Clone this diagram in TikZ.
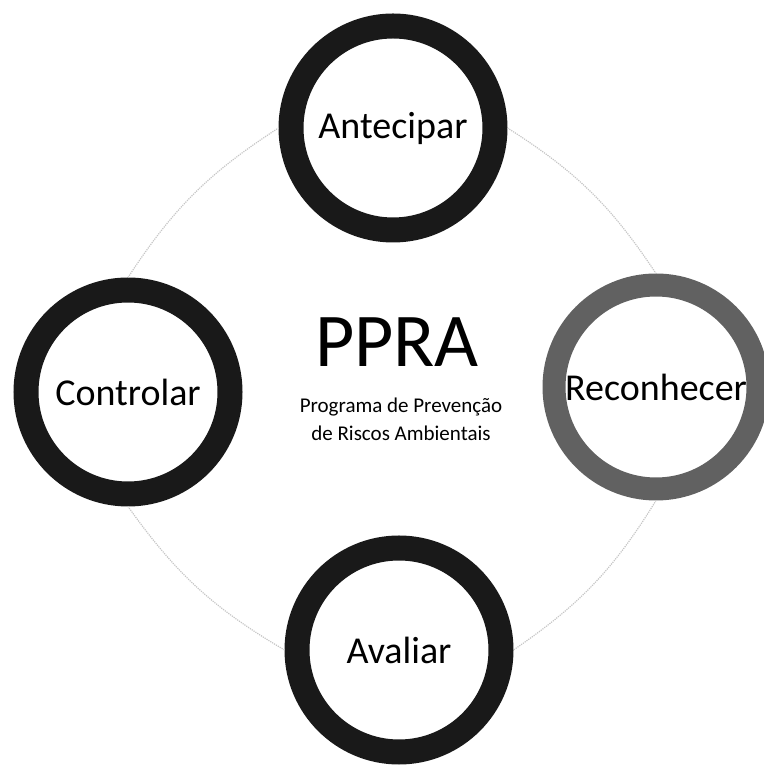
\documentclass[tikz,border=0pt]{standalone}
\usepackage{fontspec}
\setmainfont{Carlito}
\usepackage{tikz}

\tikzset{
  ring/.style={circle, draw=black!90, line width=25pt, minimum size=204pt,
               inner sep=0pt, font=\fontsize{38}{40}\selectfont},
  ringgray/.style={ring, draw=black!62, line width=23pt},
  ciclo/.style={draw=gray!45, densely dotted, line width=1.2pt}
}

\begin{document}
\begin{tikzpicture}[x=1pt,y=1pt]
\useasboundingbox (0,0) rectangle (763,765);
\node[ring] (antecipar) at (393,637) {Antecipar};
\node[ringgray] (reconhecer) at (656,378) {Reconhecer};
\node[ring] (avaliar) at (399,115) {Avaliar};
\node[ring] (controlar) at (128,373) {Controlar};
% centro
\node[anchor=base, font=\fontsize{76}{80}\selectfont] (ppra) at (397,398) {PPRA};
\node[align=center, font=\fontsize{21}{28}\selectfont] (subtitulo) at (401,346)
  {Programa de Prevenção\\de Riscos Ambientais};
\foreach \a/\b in {antecipar.east/reconhecer.north,reconhecer.south/avaliar.east,
                   avaliar.west/controlar.south,controlar.north/antecipar.west}
  \draw[ciclo] (\a) to[bend left=12] (\b);
\end{tikzpicture}
\end{document}
